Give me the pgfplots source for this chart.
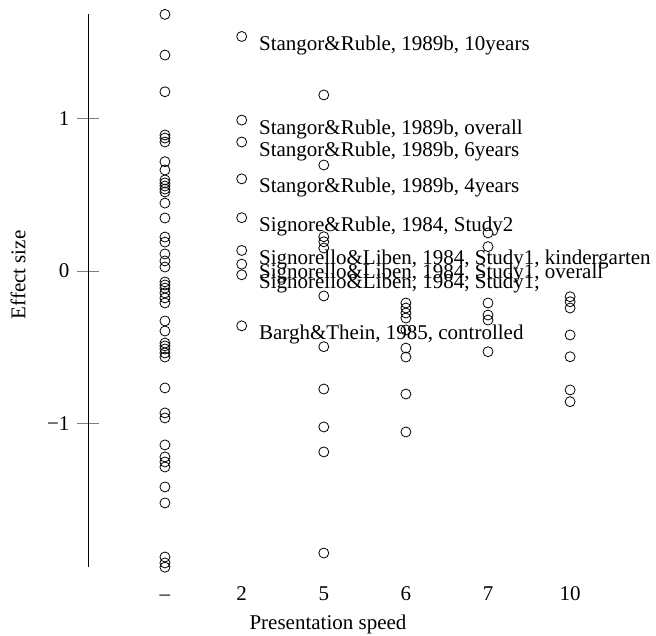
\documentclass[border=0pt]{standalone}
\usepackage{fontspec}
\setmainfont{Liberation Serif}
\usepackage{pgfplots}
\pgfplotsset{compat=1.18}
\begin{document}
\begin{tikzpicture}[font=\fontsize{21bp}{25bp}\selectfont]
\useasboundingbox (-88bp,-68.8bp) rectangle (568bp,567.2bp);
\begin{axis}[
  at={(0,0)}, anchor=south west,
  scale only axis, width=512bp, height=552.8bp,
  xmin=0.1279, xmax=6.3642, ymin=-1.945, ymax=1.685,
  clip=false,
  axis lines*=left,
  x axis line style={draw=none},
  y axis line style={line width=0.8bp},
  xtick={1.065,2,3,4,5,6},
  xticklabels={–,2,5,6,7,10},
  xtick style={draw=none},
  ytick={-1,0,1},
  yticklabels={−1,0,1},
  ytick style={line width=0.8bp},
  tick align=center,
  major tick length=22bp,
  yticklabel style={anchor=east, xshift=-4bp},
  xticklabel style={anchor=north, text height=14bp, text depth=0pt, yshift=-5bp},
  /pgf/number format/assume math mode=true,
]
\addplot[only marks, mark=o, mark size=5bp, mark options={line width=0.8bp}, black] coordinates {
(1.065,1.685) (1.065,1.418) (1.065,1.177) (1.065,0.893) (1.065,0.873) (1.065,0.847)
(1.065,0.718) (1.065,0.663) (1.065,0.598) (1.065,0.578) (1.065,0.558) (1.065,0.538)
(1.065,0.519) (1.065,0.446) (1.065,0.348) (1.065,0.223) (1.065,0.190) (1.065,0.112)
(1.065,0.066) (1.065,0.026) (1.065,-0.072) (1.065,-0.092) (1.065,-0.112) (1.065,-0.144)
(1.065,-0.177) (1.065,-0.210) (1.065,-0.328) (1.065,-0.394) (1.065,-0.473) (1.065,-0.492)
(1.065,-0.512) (1.065,-0.538) (1.065,-0.565) (1.065,-0.768) (1.065,-0.932) (1.065,-0.965)
(1.065,-1.142) (1.065,-1.221) (1.065,-1.254) (1.065,-1.287) (1.065,-1.418) (1.065,-1.523)
(1.065,-1.878) (1.065,-1.917) (1.065,-1.945)
(3,1.156) (3,0.696) (3,0.225) (3,0.192) (3,0.151) (3,-0.164) (3,-0.497) (3,-0.775)
(3,-1.024) (3,-1.188) (3,-1.852)
(4,-0.210) (4,-0.243) (4,-0.276) (4,-0.309) (4,-0.387) (4,-0.506) (4,-0.565) (4,-0.808) (4,-1.057)
(5,0.250) (5,0.160) (5,-0.210) (5,-0.289) (5,-0.322) (5,-0.530)
(6,-0.169) (6,-0.202) (6,-0.243) (6,-0.420) (6,-0.563) (6,-0.781) (6,-0.858)
};
\addplot[only marks, mark=o, mark size=5bp, mark options={line width=0.8bp}, black,
  point meta=explicit symbolic, nodes near coords,
  nodes near coords style={anchor=base west, inner sep=0pt, xshift=17bp, yshift=-14bp, font=\fontsize{21bp}{25bp}\selectfont}]
coordinates {
(2,1.540) [Stangor\&Ruble, 1989b, 10years]
(2,0.991) [Stangor\&Ruble, 1989b, overall]
(2,0.847) [Stangor\&Ruble, 1989b, 6years]
(2,0.605) [Stangor\&Ruble, 1989b, 4years]
(2,0.350) [Signore\&Ruble, 1984, Study2]
(2,0.135) [Signorello\&Liben, 1984, Study1, kindergarten]
(2,0.045) [Signorello\&Liben, 1984, Study1, overall]
(2,-0.025) [Signorello\&Liben, 1984, Study1,]
(2,-0.360) [Bargh\&Thein, 1985, controlled]
};
\node at (axis cs:3.051,-2.318) {Presentation speed};
\node[rotate=90] at (axis cs:-0.7247,-0.026) {Effect size};
\end{axis}
\end{tikzpicture}
\end{document}
